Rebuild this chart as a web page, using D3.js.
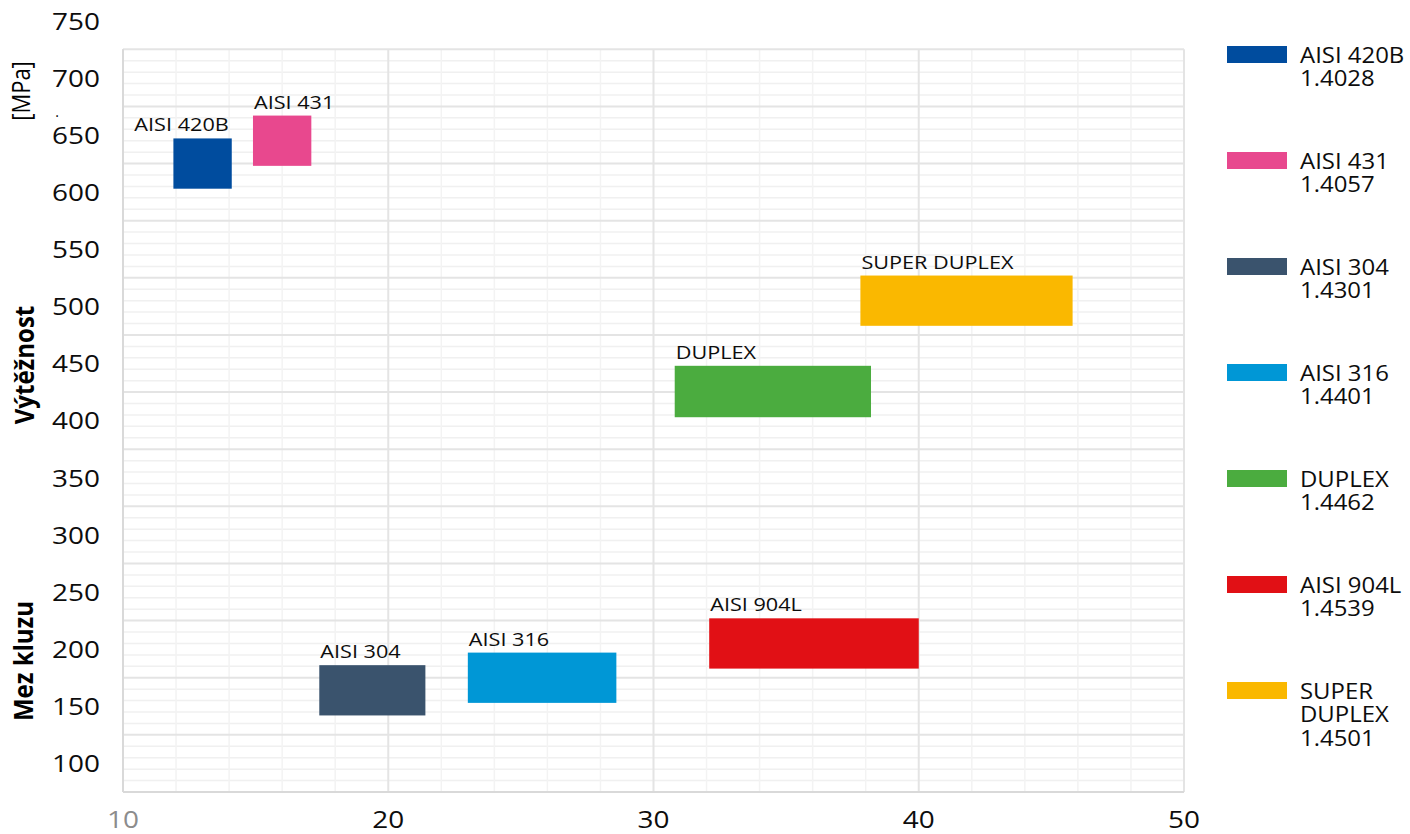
<!DOCTYPE html>
<html><head><meta charset="utf-8">
<script src="https://cdn.jsdelivr.net/npm/d3@7"></script>
<style>
html,body{margin:0;padding:0;background:#fff;}
svg{display:block;}
text{font-family:"Open Sans","DejaVu Sans",sans-serif;}
</style></head>
<body>
<svg id="chart" width="1410" height="834"></svg>
<script>
// ---- data ----
const steels = ["AISI 420B","AISI 431","AISI 304","AISI 316","DUPLEX","AISI 904L","SUPER DUPLEX"];
const wnr = ["1.4028","1.4057","1.4301","1.4401","1.4462","1.4539","1.4501"];
const legendNameLines = [["AISI 420B"],["AISI 431"],["AISI 304"],["AISI 316"],["DUPLEX"],["AISI 904L"],["SUPER","DUPLEX"]];
const prenMin = [11.9, 14.9, 17.4, 23, 30.8, 32.1, 37.8];
const prenMax = [14.1, 17.1, 21.4, 28.6, 38.2, 40, 45.8];
const yieldMin = [603, 623, 142, 153, 403, 183, 483];
const yieldMax = [647, 667, 186, 197, 448, 227, 527];
const colors = ["#004C9E","#E8488E","#3A536D","#0097D6","#4BAC3F","#E11015","#FAB800"];
const labelAnchor = ["end","start","start","start","start","start","start"];
const xTicks = [10, 20, 30, 40, 50];
const yTicks = [100,150,200,250,300,350,400,450,500,550,600,650,700,750];

// ---- layout ----
const SX = 1.14;
const svg = d3.select("#chart");
const pL = 123, pR = 1184, pT = 49.3, pB = 792;
const x = d3.scaleLinear().domain([10, 50]).range([pL, pR]);
const y = d3.scaleLinear().domain([75, 725]).range([pB, pT]);

function stretched(sel, px, py){ sel.attr("transform", `translate(${px},${py}) scale(${SX},1)`); }

// gridlines
const g = svg.append("g");
const minorY = d3.range(75, 726, 10).filter(v => (v - 75) % 50 !== 0);
const majorY = d3.range(75, 726, 50);
const minorX = d3.range(10, 51, 2).filter(v => v % 10 !== 0);
const majorX = d3.range(10, 51, 10);
g.selectAll(".minY").data(minorY).enter().append("line")
  .attr("x1", pL).attr("x2", pR).attr("y1", d => y(d)).attr("y2", d => y(d))
  .attr("stroke", "#f0f0f0").attr("stroke-width", 1.5);
g.selectAll(".minX").data(minorX).enter().append("line")
  .attr("y1", pT).attr("y2", pB).attr("x1", d => x(d)).attr("x2", d => x(d))
  .attr("stroke", "#f3f3f3").attr("stroke-width", 1.5);
g.selectAll(".majY").data(majorY).enter().append("line")
  .attr("x1", pL).attr("x2", pR).attr("y1", d => y(d)).attr("y2", d => y(d))
  .attr("stroke", "#e4e4e4").attr("stroke-width", 2);
g.selectAll(".majX").data(majorX).enter().append("line")
  .attr("y1", pT).attr("y2", pB).attr("x1", d => x(d)).attr("x2", d => x(d))
  .attr("stroke", "#e4e4e4").attr("stroke-width", 2);
// axis lines
g.append("line").attr("x1", pL).attr("x2", pL).attr("y1", pT).attr("y2", pB).attr("stroke", "#d9d9d9").attr("stroke-width", 2);
g.append("line").attr("x1", pL).attr("x2", pR).attr("y1", pB).attr("y2", pB).attr("stroke", "#d9d9d9").attr("stroke-width", 2);

// tick labels
svg.selectAll(".yt").data(yTicks).enter().append("text")
  .each(function(d){ stretched(d3.select(this), 100, y(d)); })
  .attr("text-anchor", "end").attr("dy", "0.36em")
  .attr("font-size", 24.5).attr("fill", "#0d0d0d").text(d => d);
svg.selectAll(".xt").data(xTicks).enter().append("text")
  .each(function(d){ stretched(d3.select(this), x(d), 819); })
  .attr("text-anchor", "middle").attr("dy", "0.36em")
  .attr("font-size", 24.5).attr("fill", (d, i) => i === 0 ? "#8c8c8c" : "#0d0d0d").text(d => d);

// bars
const idx = d3.range(steels.length);
svg.selectAll(".bar").data(idx).enter().append("rect")
  .attr("x", i => x(prenMin[i])).attr("width", i => x(prenMax[i]) - x(prenMin[i]))
  .attr("y", i => y(yieldMax[i])).attr("height", i => y(yieldMin[i]) - y(yieldMax[i]))
  .attr("fill", i => colors[i]);
svg.selectAll(".blab").data(idx).enter().append("text")
  .each(function(i){ stretched(d3.select(this), labelAnchor[i] === "end" ? x(prenMax[i]) - 3 : x(prenMin[i]) + 1, y(yieldMax[i]) - 7); })
  .attr("text-anchor", i => labelAnchor[i])
  .attr("font-size", 19).attr("fill", "#0d0d0d").text(i => steels[i]);

// y title
function vtext(txt, px, py, size, weight){
  svg.append("text").attr("transform", `translate(${px},${py}) scale(${SX},1) rotate(-90)`)
    .attr("text-anchor", "middle").attr("dy", "0.35em")
    .attr("font-size", size).attr("font-weight", weight).attr("fill", "#000").text(txt);
}
vtext("Mez kluzu", 23, 661, 24, "bold");
vtext("Výtěžnost", 24, 365, 24, "bold");
vtext("[MPa]", 21, 91, 22, "normal");
svg.append("text").attr("x", 57).attr("y", 121).attr("text-anchor", "middle")
  .attr("font-size", 14).attr("fill", "#000").text("·");

// legend
const leg = svg.append("g");
idx.forEach(i => {
  const ty = 46 + i * 106;
  leg.append("rect").attr("x", 1227).attr("y", ty).attr("width", 60).attr("height", 17).attr("fill", colors[i]);
  const lines = legendNameLines[i].concat([wnr[i]]);
  lines.forEach((t, k) => {
    leg.append("text").each(function(){ stretched(d3.select(this), 1300, ty + 9 + k * 23.5); })
      .attr("dy", "0.36em").attr("font-size", 21).attr("fill", "#0d0d0d").text(t);
  });
});
</script>
</body></html>
